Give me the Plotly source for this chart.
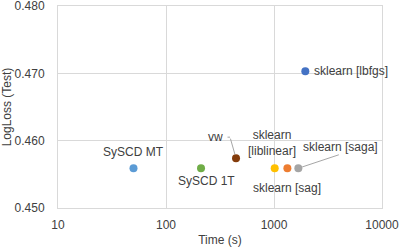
import math
import plotly.graph_objects as go

labels = ["SySCD MT", "SySCD 1T", "vw", "sklearn [liblinear]", "sklearn [sag]", "sklearn [saga]", "sklearn [lbfgs]"]
times = [50, 211, 445, 1015, 1330, 1680, 1950]
logloss = [0.4559, 0.4559, 0.4574, 0.4559, 0.4559, 0.4559, 0.4703]
colors = ["#5B9BD5", "#70AD47", "#843C0C", "#FFC000", "#ED7D31", "#A5A5A5", "#4472C4"]

x_ticks = [10, 100, 1000, 10000]
y_ticks = [0.450, 0.460, 0.470, 0.480]

fig = go.Figure()
fig.add_trace(go.Scatter(
    x=times, y=logloss, mode="markers",
    marker=dict(size=8, color=colors),
    hoverinfo="text", text=labels, showlegend=False,
))

txt = dict(family="Liberation Sans, Arial, sans-serif", size=12, color="#404040")

# label texts (text, index, xshift, yshift, xanchor)
label_specs = [
    ("SySCD MT", 0, 0, 16, "center"),
    ("SySCD 1T", 1, 5, -13, "center"),
    ("vw", 2, -21, 21, "center"),
    ("sklearn<br>[liblinear]", 3, -3, 25, "center"),
    ("sklearn [sag]", 4, 0, -20, "center"),
    ("sklearn [saga]", 5, 42, 21, "center"),
    ("sklearn [lbfgs]", 6, 7, 0, "left"),
]
for t, i, xs, ys, xa in label_specs:
    fig.add_annotation(
        x=math.log10(times[i]), y=logloss[i], xref="x", yref="y",
        text=t, showarrow=False, xshift=xs, yshift=ys, xanchor=xa,
        yanchor="middle", font=txt, align="center",
    )

leader = dict(showarrow=True, arrowhead=0, arrowwidth=1, arrowcolor="#A6A6A6", text="")
# vw leader: diagonal + short horizontal
fig.add_annotation(x=math.log10(times[2]), y=logloss[2], xref="x", yref="y",
                   ax=-6, ay=-21, standoff=4, **leader)
fig.add_annotation(x=math.log10(times[2]), y=logloss[2], xref="x", yref="y",
                   xshift=-6, yshift=21, ax=-4, ay=0, **leader)
# saga leader
fig.add_annotation(x=math.log10(times[5]), y=logloss[5], xref="x", yref="y",
                   ax=42, ay=-14, standoff=4, **leader)

grid = "#D9D9D9"
fig.update_xaxes(
    type="log", range=[1, 4], tickvals=x_ticks, ticktext=[str(v) for v in x_ticks],
    showgrid=True, gridcolor=grid, gridwidth=1, showline=True, linecolor=grid,
    mirror=True, zeroline=False, ticks="", tickfont=txt, automargin=False,
    ticklabelstandoff=6, ticklabeloverflow="allow",
    title=dict(text="Time (s)", font=txt, standoff=6),
)
fig.update_yaxes(
    range=[0.450, 0.480], tickvals=y_ticks, ticktext=["%.3f" % v for v in y_ticks],
    showgrid=True, gridcolor=grid, gridwidth=1, showline=True, linecolor=grid,
    mirror=True, zeroline=False, ticks="", tickfont=txt, automargin=False,
    ticklabelstandoff=10, ticklabeloverflow="allow",
    title=dict(text="LogLoss (Test)", font=txt, standoff=4),
)
fig.update_layout(
    width=399, height=247, margin=dict(l=58, r=17, t=6, b=39),
    plot_bgcolor="white", paper_bgcolor="white",
)
fig.write_html("out.html", config={"displayModeBar": False},
               post_script="document.body.style.margin='0';document.body.style.overflow='hidden';")
